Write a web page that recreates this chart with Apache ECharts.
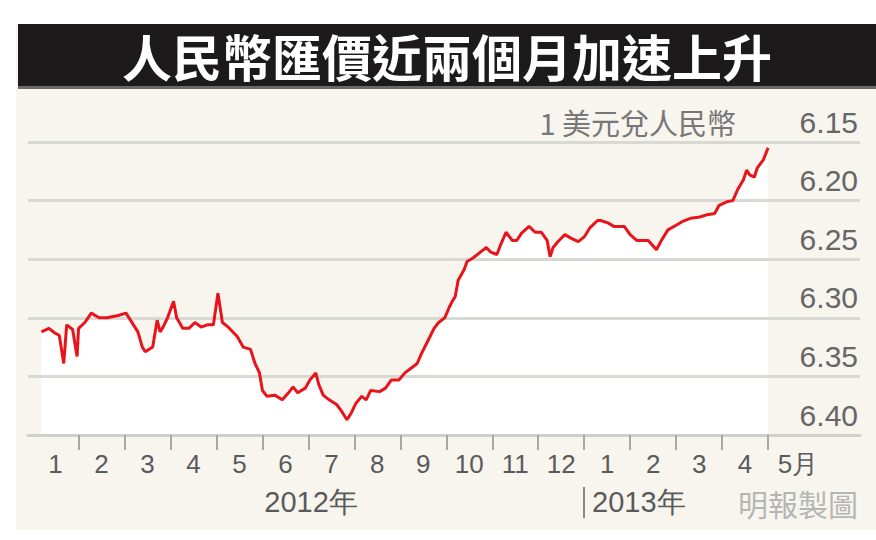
<!DOCTYPE html>
<html>
<head>
<meta charset="utf-8">
<script src="https://cdn.jsdelivr.net/npm/echarts@6/dist/echarts.min.js"></script>
<style>
html,body{margin:0;padding:0;background:#ffffff;}
#chart{width:876px;height:540px;}
</style>
</head>
<body>
<div id="chart"></div>
<script>
// ---- data ----
const titleText = '人民幣匯價近兩個月加速上升';
const unitText = '1 美元兌人民幣';
const sourceText = '明報製圖';
const yearLabels = ['2012年', '2013年'];
const monthLabels = ['1','2','3','4','5','6','7','8','9','10','11','12','1','2','3','4','5月'];
const yTicks = [6.15, 6.20, 6.25, 6.30, 6.35, 6.40];

const dates = [
 '2012-01-07','2012-01-12','2012-01-16','2012-01-19','2012-01-22','2012-01-24','2012-01-28','2012-01-31',
 '2012-02-01','2012-02-05','2012-02-09','2012-02-14','2012-02-19','2012-02-26',
 '2012-03-02','2012-03-05','2012-03-10','2012-03-13','2012-03-15','2012-03-20','2012-03-23','2012-03-25','2012-03-27','2012-03-30',
 '2012-04-03','2012-04-05','2012-04-09','2012-04-13','2012-04-17','2012-04-21','2012-04-25','2012-04-29',
 '2012-05-02','2012-05-05','2012-05-09','2012-05-15','2012-05-19','2012-05-24','2012-05-27','2012-05-30',
 '2012-06-01','2012-06-04','2012-06-09','2012-06-14','2012-06-18','2012-06-21','2012-06-24','2012-06-29',
 '2012-07-02','2012-07-06','2012-07-08','2012-07-11','2012-07-15','2012-07-20','2012-07-23','2012-07-27','2012-07-30',
 '2012-08-02','2012-08-06','2012-08-09','2012-08-12','2012-08-18','2012-08-22','2012-08-26','2012-08-31',
 '2012-09-04','2012-09-08','2012-09-12','2012-09-15','2012-09-20','2012-09-23','2012-09-26','2012-09-30',
 '2012-10-03','2012-10-05','2012-10-07','2012-10-09','2012-10-13','2012-10-15','2012-10-19','2012-10-24','2012-10-28','2012-10-31',
 '2012-11-04','2012-11-07','2012-11-10','2012-11-14','2012-11-17','2012-11-20','2012-11-25','2012-11-29',
 '2012-12-03','2012-12-07','2012-12-09','2012-12-11','2012-12-15','2012-12-19','2012-12-23','2012-12-28',
 '2013-01-01','2013-01-05','2013-01-10','2013-01-12','2013-01-17','2013-01-21','2013-01-28',
 '2013-02-01','2013-02-05','2013-02-12','2013-02-17','2013-02-20','2013-02-24',
 '2013-03-01','2013-03-05','2013-03-11','2013-03-17','2013-03-22','2013-03-27','2013-03-30',
 '2013-04-04','2013-04-08','2013-04-11','2013-04-15','2013-04-17','2013-04-19','2013-04-22','2013-04-24','2013-04-28','2013-05-01'
];
const rates = [
 6.312,6.309,6.313,6.315,6.339,6.306,6.310,6.333,
 6.309,6.304,6.296,6.300,6.300,6.298,
 6.296,6.302,6.312,6.325,6.329,6.325,6.302,6.312,6.308,6.300,
 6.286,6.300,6.309,6.309,6.304,6.308,6.306,6.306,
 6.279,6.304,6.308,6.316,6.325,6.327,6.339,6.347,
 6.362,6.367,6.366,6.370,6.364,6.359,6.364,6.360,
 6.353,6.347,6.357,6.366,6.370,6.374,6.379,6.387,6.381,
 6.373,6.367,6.370,6.362,6.363,6.360,6.353,6.353,
 6.347,6.343,6.339,6.330,6.317,6.309,6.304,6.300,
 6.291,6.286,6.282,6.268,6.259,6.252,6.249,6.244,6.240,6.244,
 6.246,6.236,6.227,6.234,6.234,6.228,6.222,6.227,
 6.227,6.234,6.248,6.240,6.234,6.229,6.232,6.235,
 6.231,6.223,6.217,6.217,6.219,6.222,6.222,
 6.229,6.234,6.234,6.242,6.234,6.225,
 6.221,6.218,6.215,6.214,6.212,6.211,6.204,
 6.201,6.200,6.191,6.182,6.174,6.178,6.180,6.172,6.165,6.155
];

// month position: 0 = start of Jan 2012, each month one unit wide
function monthPos(s) {
  const p = s.split('-').map(Number);
  const mi = (p[0] - 2012) * 12 + (p[1] - 1);
  const dim = new Date(p[0], p[1], 0).getDate();
  return mi + (p[2] - 1) / dim;
}
const seriesData = dates.map((d, i) => [monthPos(d), rates[i]]);
const tickPositions = monthLabels.slice(1).map((_, i) => i + 1);
const labelPositions = monthLabels.map((_, i) => i + 0.5);

const numFont = "'Liberation Sans', Arial, sans-serif";
const cjkFont = "'Noto Sans CJK TC', 'Noto Sans CJK SC', sans-serif";

const chart = echarts.init(document.getElementById('chart'), null, {renderer: 'svg'});
chart.setOption({
  backgroundColor: '#f7f5ee',
  animation: false,
  grid: {left: 28, right: 16, top: 142, bottom: 105, containLabel: false, outerBoundsMode: 'none'},
  xAxis: {
    type: 'value', min: -0.1, max: 18,
    z: 2,
    axisLine: {show: true, lineStyle: {color: '#cfcfcb', width: 3}},
    axisTick: {show: true, length: 15, customValues: tickPositions, lineStyle: {color: '#a8a8a8', width: 2}},
    axisLabel: {
      customValues: labelPositions, margin: 16,
      formatter: v => {
        const s = monthLabels[Math.floor(v)] || '';
        return s.length > 1 && s.indexOf('月') > 0 ? '{m|' + s + '}' : s;
      },
      rich: {m: {color: '#5a5a5a', fontSize: 26, fontFamily: numFont, padding: [0, 0, 0, 14]}},
      color: '#5a5a5a', fontSize: 26, fontFamily: numFont
    },
    splitLine: {show: false}
  },
  yAxis: {
    type: 'value', inverse: true, min: 6.15, max: 6.40, interval: 0.05,
    position: 'right', z: 2,
    axisLine: {show: false}, axisTick: {show: false},
    axisLabel: {
      inside: true, margin: 2, verticalAlign: 'bottom', padding: [0, 0, 5, 0],
      formatter: v => yTicks.find(t => Math.abs(t - v) < 1e-6).toFixed(2),
      color: '#666', fontSize: 30, fontFamily: numFont
    },
    splitLine: {show: true, lineStyle: {color: '#d8d8d4', width: 3}}
  },
  series: [
    {
      type: 'line', data: seriesData, z: 1, symbol: 'none', silent: true,
      lineStyle: {width: 0, opacity: 0},
      areaStyle: {color: '#ffffff', opacity: 1, origin: 'end'}
    },
    {
      type: 'line', data: seriesData, z: 3, symbol: 'none',
      lineStyle: {color: '#e8141c', width: 3}
    }
  ],
  graphic: [
    {type: 'rect', shape: {x: 0, y: 0, width: 876, height: 24}, style: {fill: '#ffffff'}},
    {type: 'rect', shape: {x: 0, y: 0, width: 16, height: 540}, style: {fill: '#ffffff'}},
    {type: 'rect', shape: {x: 0, y: 530, width: 876, height: 10}, style: {fill: '#ffffff'}},
    {type: 'rect', shape: {x: 18, y: 24, width: 858, height: 62}, style: {fill: '#1c1a1a'}},
    {type: 'rect', shape: {x: 18, y: 86, width: 858, height: 3}, style: {fill: '#6a6a6a'}},
    {type: 'text', x: 447, y: 55, style: {text: titleText, fill: '#ffffff', font: 'bold 50px ' + cjkFont, textAlign: 'center', textVerticalAlign: 'middle'}},
    {type: 'text', x: 736, y: 122, style: {text: unitText, fill: '#777', font: '29px ' + cjkFont, textAlign: 'right', textVerticalAlign: 'middle'}},
    {type: 'text', x: 311, y: 502, style: {text: yearLabels[0], fill: '#5a5a5a', font: '29px ' + numFont, textAlign: 'center', textVerticalAlign: 'middle'}},
    {type: 'line', shape: {x1: 584, y1: 487, x2: 584, y2: 518}, style: {stroke: '#8a8a8a', lineWidth: 2}},
    {type: 'text', x: 592, y: 502, style: {text: yearLabels[1], fill: '#5a5a5a', font: '29px ' + numFont, textAlign: 'left', textVerticalAlign: 'middle'}},
    {type: 'text', x: 858, y: 503, style: {text: sourceText, fill: '#b5b5b5', font: '30px ' + cjkFont, textAlign: 'right', textVerticalAlign: 'middle'}}
  ]
});
</script>
</body>
</html>
